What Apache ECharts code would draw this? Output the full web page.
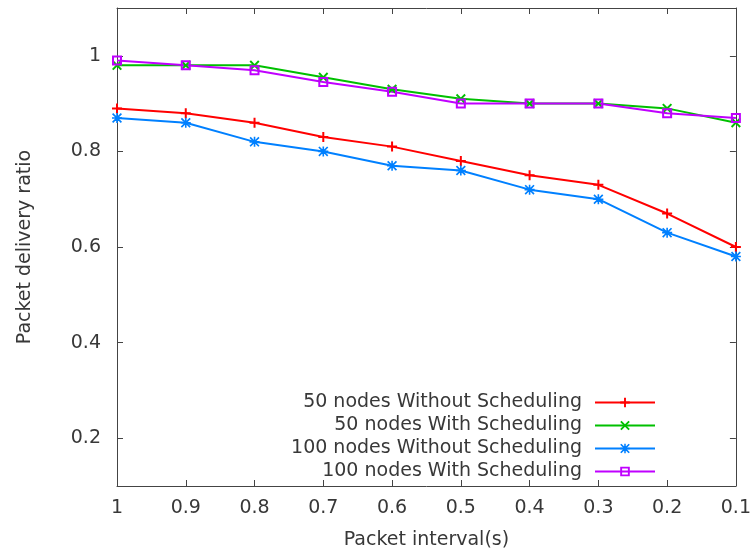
<!DOCTYPE html>
<html>
<head>
<meta charset="utf-8">
<script src="https://cdn.jsdelivr.net/npm/echarts@6/dist/echarts.min.js"></script>
<style>
    html, body { margin: 0; padding: 0; background: #fff; }
    #chart { width: 754px; height: 555px; }
</style>
</head>
<body>
<div id="chart"></div>
<script>
// MARK: - Data

const packetIntervals = [1, 0.9, 0.8, 0.7, 0.6, 0.5, 0.4, 0.3, 0.2, 0.1];
const xTickLabels = ["1", "0.9", "0.8", "0.7", "0.6", "0.5", "0.4", "0.3", "0.2", "0.1"];

const nodes50Without = [0.89, 0.88, 0.86, 0.83, 0.81, 0.78, 0.75, 0.73, 0.67, 0.60];
const nodes50With = [0.98, 0.98, 0.98, 0.955, 0.93, 0.91, 0.90, 0.90, 0.89, 0.86];
const nodes100Without = [0.87, 0.86, 0.82, 0.80, 0.77, 0.76, 0.72, 0.70, 0.63, 0.58];
const nodes100With = [0.99, 0.98, 0.97, 0.945, 0.925, 0.90, 0.90, 0.90, 0.88, 0.87];

const seriesNames = [
    "50 nodes Without Scheduling",
    "50 nodes With Scheduling",
    "100 nodes Without Scheduling",
    "100 nodes With Scheduling",
];

// gnuplot style point shapes
const plusPath = "path://M4,0H6V4H10V6H6V10H4V6H0V4H4Z";
const crossPath = "path://M0,1.4L1.4,0L5,3.6L8.6,0L10,1.4L6.4,5L10,8.6L8.6,10L5,6.4L1.4,10L0,8.6L3.6,5Z";
const starPath = "path://M4.2,0H5.8V4.2H10V5.8H5.8V10H4.2V5.8H0V4.2H4.2Z" +
    "M0,1.2L1.2,0L5,3.8L8.8,0L10,1.2L6.2,5L10,8.8L8.8,10L5,6.2L1.2,10L0,8.8L3.8,5Z";
const squarePath = "path://M0,0H10V10H0ZM2,2V8H8V2Z";

const textColor = "#383838";
const axisColor = "#444";
const fontFamily = "DejaVu Sans";
const fontSize = 19;

// MARK: - Chart

function pairUp(xs, ys) {
    return xs.map((x, i) => [x, ys[i]]);
}

function makeSeries(name, values, color, symbol) {
    return {
        name: name,
        type: 'line',
        data: pairUp(packetIntervals, values),
        symbol: symbol,
        symbolSize: 10,
        showAllSymbol: true,
        clip: false,
        animation: false,
        lineStyle: {color: color, width: 2},
        itemStyle: {color: color, borderWidth: 0},
    };
}

function makeLegend(name, top) {
    return {
        data: [name],
        orient: 'vertical',
        align: 'right',
        right: 98,
        top: top,
        padding: 0,
        itemWidth: 60,
        itemHeight: 12,
        selectedMode: false,
        textStyle: {
            color: textColor,
            fontSize: fontSize,
            fontFamily: fontFamily,
            padding: [0, 8, 0, 0],
        },
    };
}

let chart = echarts.init(document.getElementById('chart'), null, {renderer: 'canvas'});

let sharedX = {
    type: 'value',
    inverse: true,
    min: 0.1,
    max: 1,
    interval: 0.1,
    splitLine: {show: false},
    axisLine: {show: true, onZero: false, lineStyle: {color: axisColor, width: 1}},
    axisTick: {inside: true, length: 6, lineStyle: {color: axisColor}},
};

let sharedY = {
    type: 'value',
    min: 0.1,
    max: 1.1,
    splitNumber: 5,
    splitLine: {show: false},
    axisLine: {show: true, onZero: false, lineStyle: {color: axisColor, width: 1}},
    axisTick: {inside: true, length: 6, lineStyle: {color: axisColor}},
};

let option = {
    backgroundColor: '#fff',
    animation: false,
    grid: {left: 117, right: 16, top: 8, bottom: 69},
    legend: [
        makeLegend(seriesNames[0], 393),
        makeLegend(seriesNames[1], 416),
        makeLegend(seriesNames[2], 439),
        makeLegend(seriesNames[3], 462),
    ],
    xAxis: [
        Object.assign({}, sharedX, {
            position: 'bottom',
            name: 'Packet interval(s)',
            nameLocation: 'middle',
            nameGap: 45,
            nameTextStyle: {color: textColor, fontSize: fontSize, fontFamily: fontFamily},
            axisLabel: {
                color: textColor,
                fontSize: fontSize,
                fontFamily: fontFamily,
                margin: 13,
                formatter: function (value) {
                    let idx = packetIntervals.findIndex(v => Math.abs(v - value) < 1e-6);
                    return idx >= 0 ? xTickLabels[idx] : '';
                }
            },
        }),
        Object.assign({}, sharedX, {
            position: 'top',
            axisLabel: {show: false},
        }),
    ],
    yAxis: [
        Object.assign({}, sharedY, {
            position: 'left',
            name: 'Packet delivery ratio',
            nameLocation: 'middle',
            nameGap: 82,
            nameTextStyle: {color: textColor, fontSize: fontSize, fontFamily: fontFamily},
            axisLabel: {
                color: textColor,
                fontSize: fontSize,
                fontFamily: fontFamily,
                margin: 16,
                showMinLabel: false,
                showMaxLabel: false,
            },
        }),
        Object.assign({}, sharedY, {
            position: 'right',
            axisLabel: {show: false},
        }),
    ],
    series: [
        makeSeries(seriesNames[0], nodes50Without, '#ff0000', plusPath),
        makeSeries(seriesNames[1], nodes50With, '#00c000', crossPath),
        makeSeries(seriesNames[2], nodes100Without, '#0080ff', starPath),
        makeSeries(seriesNames[3], nodes100With, '#c000ff', squarePath),
    ],
};

option && chart.setOption(option);
</script>
</body>
</html>
